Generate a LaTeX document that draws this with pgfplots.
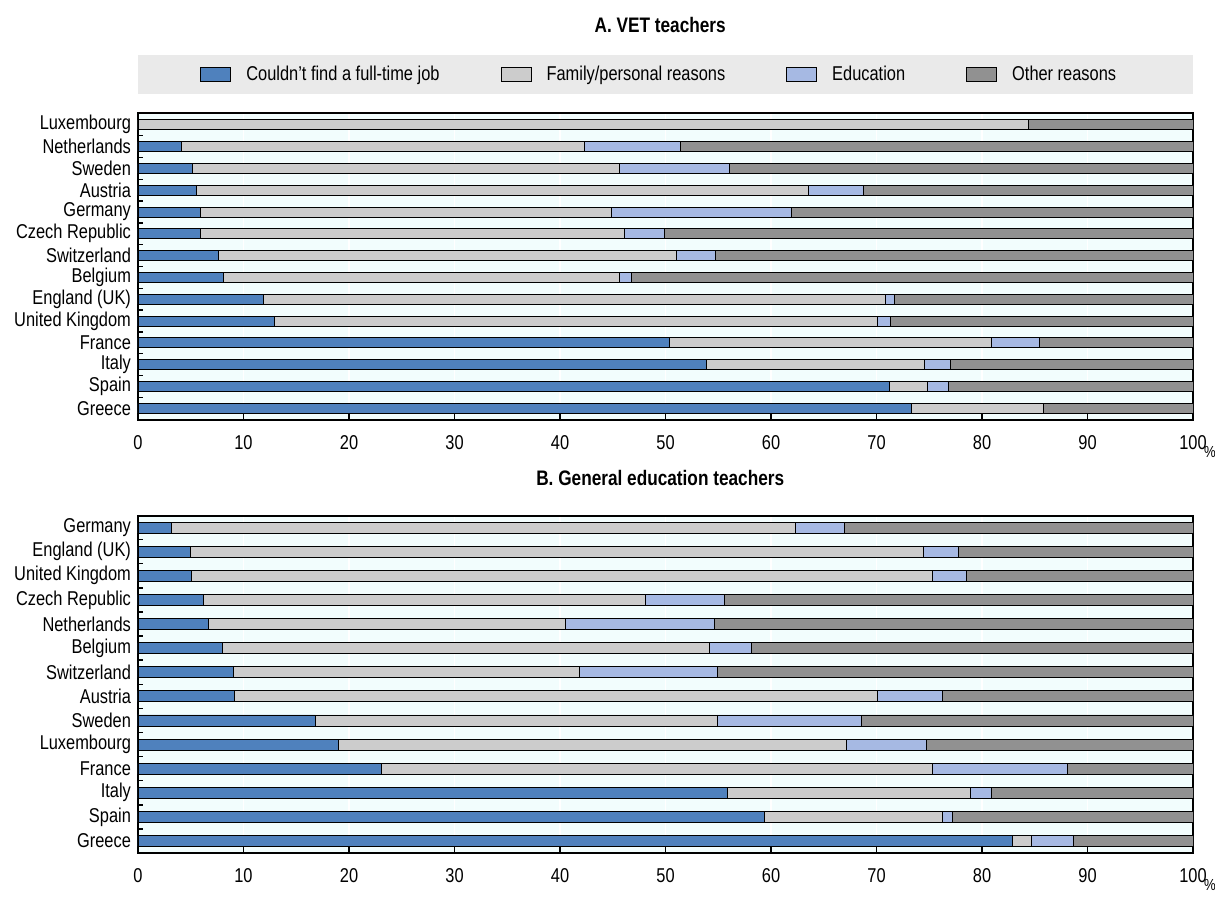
\documentclass[border=0pt]{standalone}
\usepackage{pgfplots}
\pgfplotsset{compat=1.18}
\usepackage{pgfplotstable}
\usepackage{fontspec}
\setmainfont{Liberation Sans}[FakeStretch=0.82]

\definecolor{cblue}{RGB}{79,129,189}
\definecolor{cfam}{RGB}{204,204,204}
\definecolor{cedu}{RGB}{166,185,227}
\definecolor{coth}{RGB}{145,145,145}
\definecolor{bgc}{RGB}{242,253,253}
\definecolor{legbg}{RGB}{234,234,234}

% y, couldn't find job, family, education, other
\pgfplotstableread{
y b f e o
0 0.0 84.4 0.0 15.6
1 4.1 38.2 9.1 48.6
2 5.2 40.4 10.5 43.9
3 5.5 58.0 5.3 31.2
4 5.9 39.0 17.0 38.1
5 5.9 40.2 3.8 50.1
6 7.6 43.4 3.7 45.3
7 8.1 37.5 1.2 53.2
8 11.9 58.9 0.9 28.3
9 12.9 57.2 1.2 28.7
10 50.4 30.5 4.5 14.6
11 53.9 20.6 2.5 23.0
12 71.2 3.6 2.0 23.2
13 73.3 12.5 0.0 14.2
}\vet

\pgfplotstableread{
y b f e o
0 3.2 59.1 4.7 33.0
1 5.0 69.4 3.4 22.2
2 5.1 70.2 3.2 21.5
3 6.2 41.9 7.5 44.4
4 6.7 33.8 14.1 45.4
5 8.0 46.2 3.9 41.9
6 9.0 32.8 13.1 45.1
7 9.1 61.0 6.1 23.8
8 16.8 38.1 13.7 31.4
9 19.0 48.1 7.6 25.3
10 23.1 52.2 12.8 11.9
11 55.9 23.0 2.0 19.1
12 59.4 16.8 1.0 22.8
13 82.9 1.8 4.0 11.3
}\gen

\pgfplotsset{
  panel/.style={
    xbar stacked,
    scale only axis,
    width=527.5pt,
    xmin=0, xmax=100,
    xtick={0,10,...,100},
    y dir=reverse,
    ytick={0,...,13},
    ytick style={draw=none},
    extra y ticks={0.5,1.5,...,12.5},
    extra y tick labels={},
    extra y tick style={ytick style={draw=black,line width=0.7pt}, major tick length=2.5pt},
    tick align=inside,
    xtick pos=left, ytick pos=left,
    major tick length=3pt,
    xtick style={draw=black, line width=0.7pt},
    xmajorgrids,
    major grid style={white, line width=0.8pt},
    axis background/.style={fill=bgc},
    axis line style={black, line width=0.7pt},
    /pgf/number format/assume math mode=true,
    xticklabel style={font=\fontsize{10}{11}\selectfont, yshift=-4pt},
    yticklabel style={font=\fontsize{10}{11}\selectfont},
    every axis plot/.append style={draw=black, line width=0.4pt},
    xlabel={\%},
    xlabel style={font=\fontsize{8}{9}\selectfont, anchor=center},
    title style={font=\bfseries\fontsize{10.5}{12}\selectfont, anchor=center},
  }
}

\begin{document}
\begin{tikzpicture}
\useasboundingbox (0pt,0pt) rectangle (607.5pt,-461pt);
\fill[legbg] (69pt,-27.5pt) rectangle (596.5pt,-47pt);

\begin{axis}[panel,
  at={(69pt,-56.5pt)}, anchor=north west,
  height=153.5pt,
  ymin=-0.54, ymax=13.54,
  bar width=5pt,
  yticklabels={Luxembourg,Netherlands,Sweden,Austria,Germany,Czech Republic,Switzerland,Belgium,England (UK),United Kingdom,France,Italy,Spain,Greece},
  xlabel style={at={(axis description cs:1.016,-0.105)}},
  title={A. VET teachers},
  title style={at={(axis description cs:0.495,1.248)}},
  legend columns=4,
  legend style={draw=none, fill=none, at={(axis description cs:0.495,1.125)}, anchor=center,
    font=\fontsize{10}{11}\selectfont,
    /tikz/every odd column/.append style={column sep=5.5pt},
    /tikz/every even column/.append style={column sep=28.5pt}},
  legend image code/.code={\draw[#1,draw=black,line width=0.5pt] (0pt,-3.5pt) rectangle (15pt,3.5pt);},
]
\addplot[fill=cblue] table[x=b,y=y]{\vet};
\addplot[fill=cfam] table[x=f,y=y]{\vet};
\addplot[fill=cedu] table[x=e,y=y]{\vet};
\addplot[fill=coth] table[x=o,y=y]{\vet};
\legend{Couldn't find a full-time job,Family/personal reasons,Education,Other reasons}
\end{axis}

\begin{axis}[panel,
  at={(69pt,-258pt)}, anchor=north west,
  height=168.5pt,
  ymin=-0.48, ymax=13.5,
  bar width=5.5pt,
  yticklabels={Germany,England (UK),United Kingdom,Czech Republic,Netherlands,Belgium,Switzerland,Austria,Sweden,Luxembourg,France,Italy,Spain,Greece},
  xlabel style={at={(axis description cs:1.016,-0.096)}},
  title={B. General education teachers},
  title style={at={(axis description cs:0.495,1.077)}},
]
\addplot[fill=cblue] table[x=b,y=y]{\gen};
\addplot[fill=cfam] table[x=f,y=y]{\gen};
\addplot[fill=cedu] table[x=e,y=y]{\gen};
\addplot[fill=coth] table[x=o,y=y]{\gen};
\end{axis}
\end{tikzpicture}
\end{document}
